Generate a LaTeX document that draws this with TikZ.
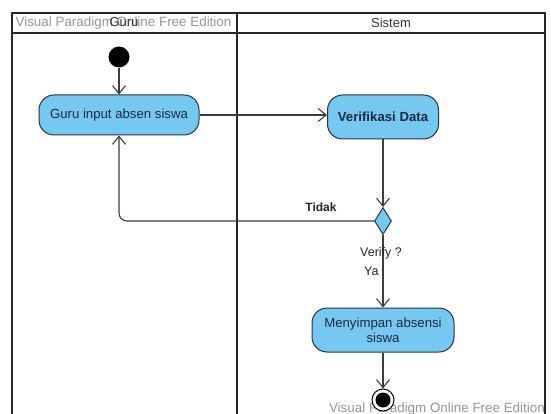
\documentclass[tikz,border=0pt]{standalone}
\usepackage{fontspec}
\setmainfont{Liberation Sans}
\usetikzlibrary{arrows.meta,shapes.geometric}
\definecolor{actfill}{RGB}{118,200,240}
\definecolor{actdraw}{RGB}{40,52,66}
\definecolor{acttext}{RGB}{28,42,66}
\definecolor{flow}{RGB}{60,60,60}
\definecolor{wmark}{RGB}{150,150,150}
\begin{document}
\begin{tikzpicture}[x=1pt,y=-1pt,
  lane/.style={line width=1.8pt,draw=black!85},
  actbox/.style={draw=actdraw,fill=actfill,line width=1pt,rounded corners=15pt,
    text=acttext,align=center,inner sep=0pt,font=\fontsize{13.2}{15}\selectfont},
  flowline/.style={draw=flow,line width=1.1pt,-{Straight Barb[length=8pt,width=13pt,line width=1.1pt]}},
  lanetitle/.style={font=\fontsize{13}{15}\selectfont,text=black!80,inner sep=0pt},
  watermark/.style={font=\fontsize{13.4}{15}\selectfont,text=wmark,inner sep=0pt},
  guardlabel/.style={font=\fontsize{12.5}{14}\selectfont,text=black!85,inner sep=0pt}]
\useasboundingbox (0,0) rectangle (551,414);

% swimlane frame
\draw[lane] (12,414) -- (12,13) -- (545,13) -- (545,414);
\draw[lane] (12,33) -- (545,33);
\draw[lane] (237,13) -- (237,414);

% lane titles and edition marks
\node[watermark] (wm1) at (123.5,23) {Visual Paradigm Online Free Edition};
\node[lanetitle] (hguru) at (124,22) {Guru};
\node[lanetitle] (hsistem) at (391,23) {Sistem};
\node[watermark,anchor=east] (wm2) at (545,409) {Visual Paradigm Online Free Edition};

% activity nodes
\node[circle,fill=black,minimum size=21pt,inner sep=0pt] (start) at (119,57) {};
\node[actbox,minimum width=160pt,minimum height=40pt] (guru) at (119,115) {Guru input absen siswa};
\node[actbox,minimum width=111pt,minimum height=44pt,font=\bfseries\fontsize{13.2}{15}\selectfont] (verif) at (383,117) {Verifikasi Data};
\node[diamond,draw=actdraw,fill=actfill,line width=1pt,minimum width=17pt,minimum height=27pt,inner sep=0pt,aspect=0.6] (dec) at (383,221) {};
\node[actbox,minimum width=142pt,minimum height=44pt] (simpan) at (383,330) {Menyimpan absensi\\siswa};
\node[circle,draw=black,line width=1pt,fill=white,minimum size=22pt,inner sep=0pt] (end) at (383,400) {};
\node[circle,fill=black,minimum size=15pt,inner sep=0pt] (endin) at (end) {};

% control flows
\draw[flowline] (start) -- (guru);
\draw[flowline] (guru) -- (verif.west |- guru);
\draw[flowline] (verif) -- (dec.north);
\draw[flowline,rounded corners=8pt] (dec.west) -| (guru.south);
\draw[flowline] (dec.south) -- (simpan.north);
\draw[flowline] (simpan) -- (end.north);

% guard labels
\node[guardlabel,font=\bfseries\fontsize{12}{14}\selectfont,anchor=south] (tidak) at (321,212) {Tidak};
\node[guardlabel,anchor=west] (verify) at (360,253) {Verify ?};
\node[guardlabel,anchor=west] (ya) at (364,271) {Ya};
\end{tikzpicture}
\end{document}
